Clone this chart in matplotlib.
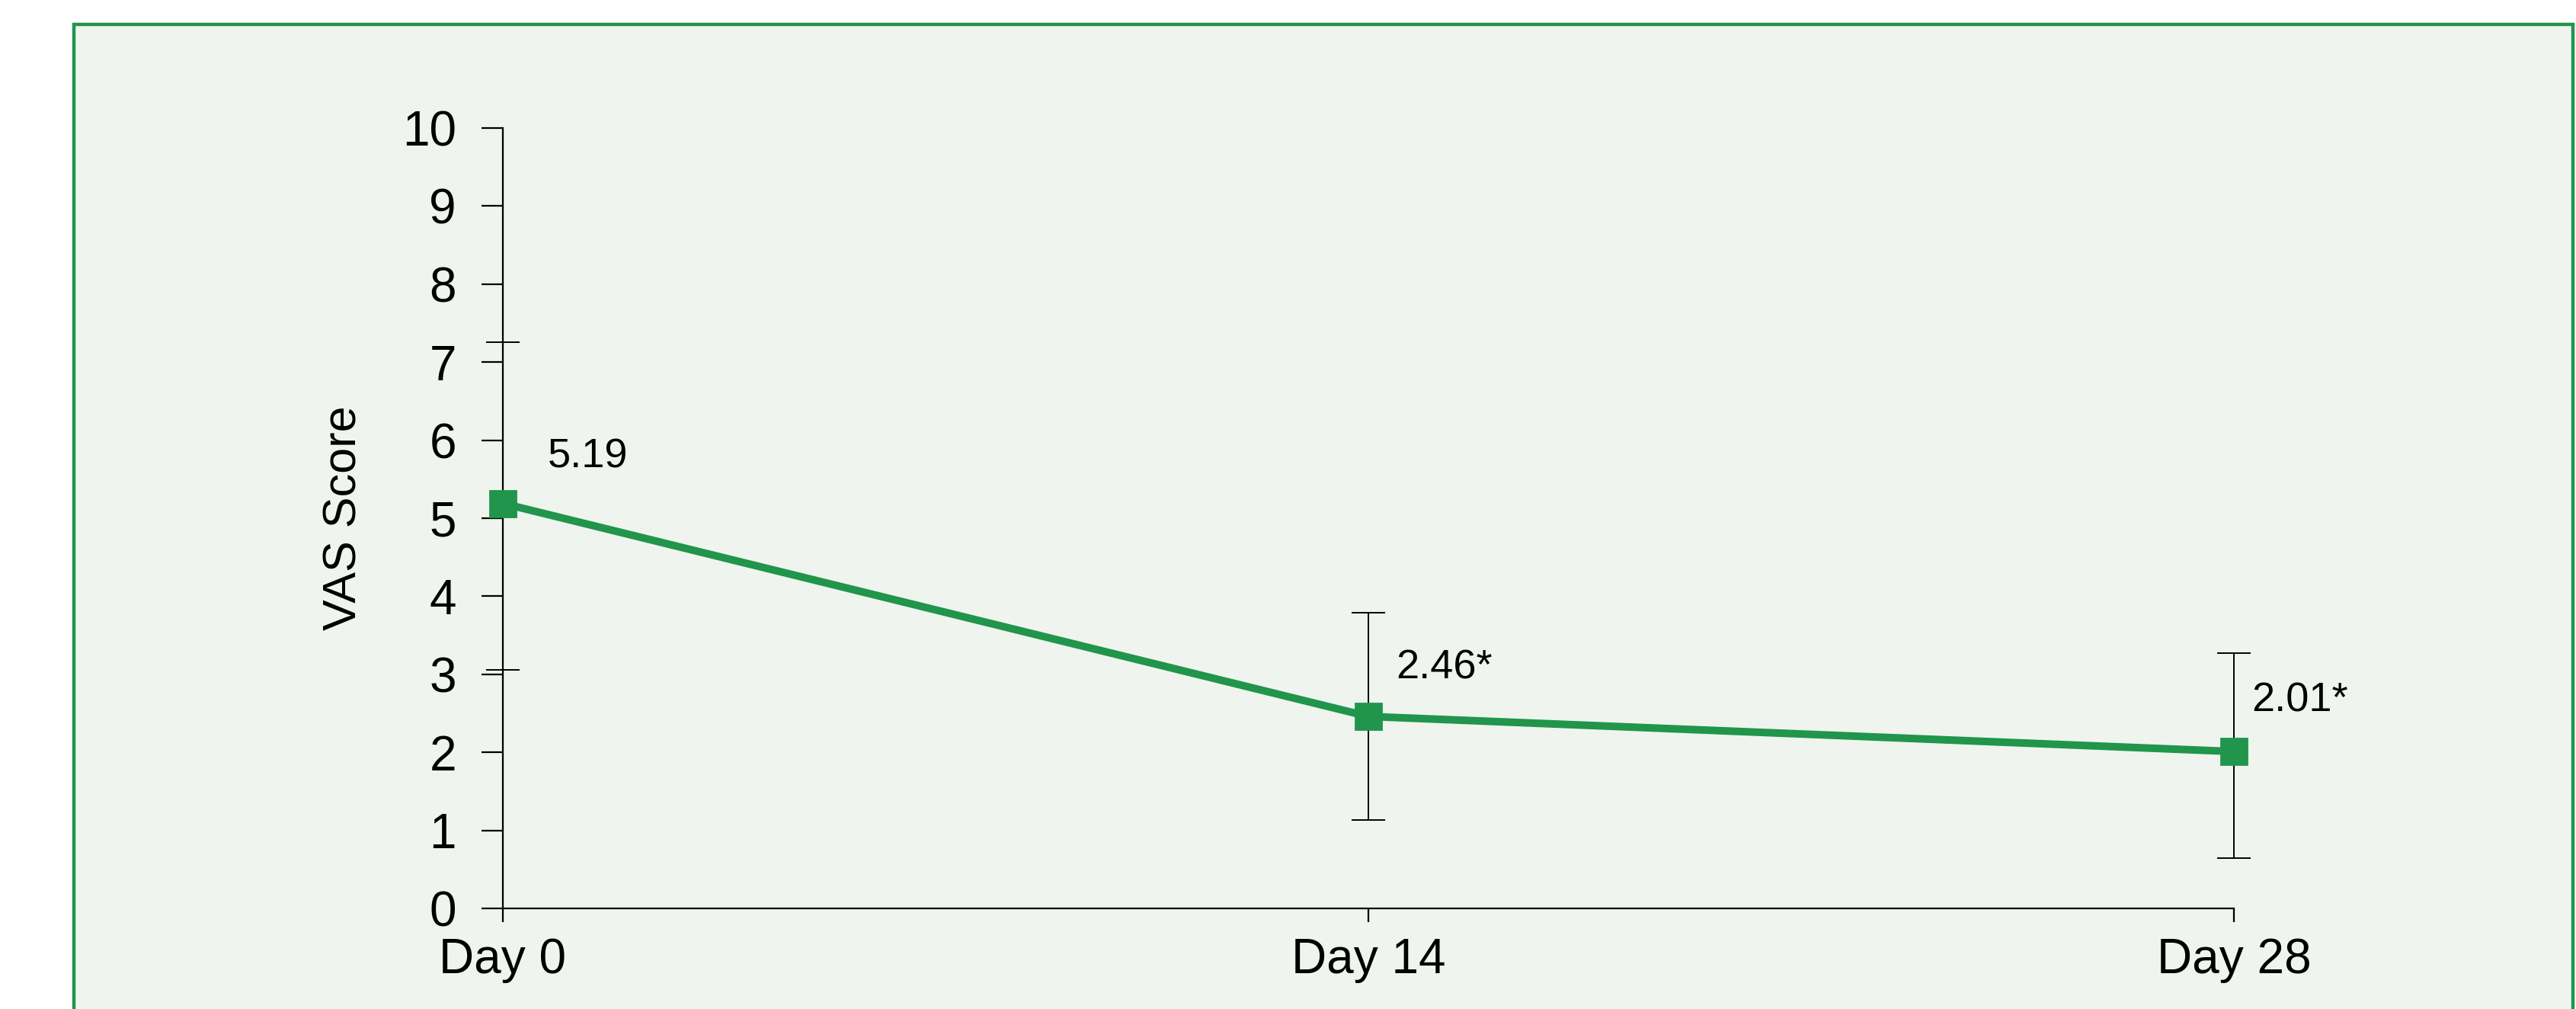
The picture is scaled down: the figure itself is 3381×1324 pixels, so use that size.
import matplotlib
matplotlib.use("Agg")
import matplotlib.pyplot as plt
from matplotlib.patches import Rectangle

# data
DAYS = ["Day 0", "Day 14", "Day 28"]
VAS_MEAN = [5.19, 2.46, 2.01]
ERR_LOW = [3.06, 1.13, 0.64]
ERR_HIGH = [7.26, 3.79, 3.27]
POINT_LABELS = ["5.19", "2.46*", "2.01*"]

GREEN = "#20954b"
BG = "#eff4ee"

# label offsets in points (dx, dy) from each point
LABEL_OFFSETS = [(21, 22), (13, 23), (8.5, 24)]

plt.rcParams["font.family"] = ["Liberation Sans", "DejaVu Sans"]

fig = plt.figure(figsize=(3381 / 200, 1324 / 200), dpi=200, facecolor="white")
fig.patches.append(Rectangle((97 / 3381, -0.05), (3377 - 97) / 3381, 1.05 - 32 / 1324,
                             transform=fig.transFigure, facecolor=BG, edgecolor=GREEN,
                             linewidth=1.6, zorder=-5))

ax = fig.add_axes([660 / 3381, (1324 - 1192) / 1324, (2932 - 660) / 3381, (1192 - 168) / 1324])
ax.set_facecolor("none")
ax.set_zorder(2)

x = list(range(len(DAYS)))
yerr = [[m - lo for m, lo in zip(VAS_MEAN, ERR_LOW)],
        [hi - m for m, hi in zip(VAS_MEAN, ERR_HIGH)]]
ax.errorbar(x, VAS_MEAN, yerr=yerr, fmt="none", ecolor="black", elinewidth=0.7,
            capsize=8, capthick=0.7, clip_on=False, zorder=2)
ax.plot(x, VAS_MEAN, color=GREEN, linewidth=3.6, marker="s", markersize=12.5,
        clip_on=False, zorder=3)

for xi, yi, txt, off in zip(x, VAS_MEAN, POINT_LABELS, LABEL_OFFSETS):
    ax.annotate(txt, (xi, yi), xytext=off, textcoords="offset points",
                ha="left", va="center", fontsize=19.5)

ax.set_xlim(0, 2)
ax.set_ylim(0, 10)
ax.set_yticks(range(0, 11))
ax.set_xticks(x)
ax.set_xticklabels(DAYS)
ax.tick_params(axis="y", length=10, width=0.8, pad=12, labelsize=23)
ax.tick_params(axis="x", length=6.5, width=0.8, pad=7, labelsize=23)
ax.set_ylabel("VAS Score", fontsize=22, labelpad=17)
ax.spines[["top", "right"]].set_visible(False)
ax.spines[["left", "bottom"]].set_linewidth(0.8)

fig.savefig("out.png", dpi=200, facecolor="white")
